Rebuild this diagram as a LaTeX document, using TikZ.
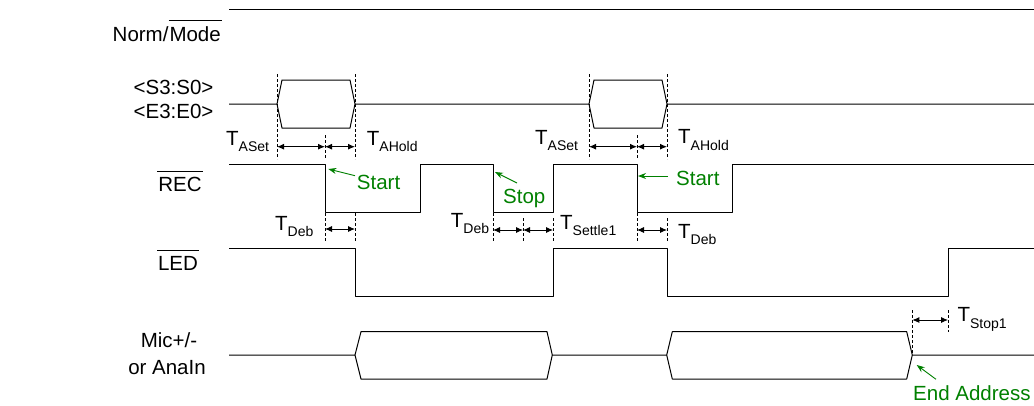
\documentclass[tikz,border=0pt]{standalone}
\usepackage{fontspec}
\setmainfont{Liberation Sans}
\usetikzlibrary{arrows.meta}
\definecolor{annot}{RGB}{0,128,0}
\newcommand\ovl[1]{\vbox{\hrule height 1pt\kern 5pt\hbox{\kern1pt#1\kern1pt}}}
\newcommand\tsym[1]{T\raisebox{-6.5pt}{\fontsize{14}{15}\selectfont #1}}
\begin{document}
\begin{tikzpicture}[x=1pt, y=-1pt, line join=round,
  sig/.style={line width=1pt},
  guide/.style={line width=0.8pt, dash pattern=on 3pt off 2pt},
  tim/.style={line width=0.9pt, {Latex[length=7pt,width=6pt]}-{Latex[length=7pt,width=6pt]}},
  note/.style={annot, line width=0.9pt, -{Stealth[length=8pt,width=6pt]}},
  lbl/.style={inner sep=0pt, font=\fontsize{20.5}{24}\selectfont},
  tl/.style={lbl, anchor=base west},
  gl/.style={lbl, text=annot, anchor=base west}]
\useasboundingbox (0,0) rectangle (1034,405);
\node[lbl, anchor=base east] (norm) at (222,41)    {Norm/\ovl{Mode}};
\node[lbl, anchor=base]      (sadr) at (173.5,94.3) {<S3:S0>};
\node[lbl, anchor=base]      (eadr) at (173.5,118.3) {<E3:E0>};
\node[lbl, anchor=base]      (rec)  at (180,191.5) {\ovl{REC}};
\node[lbl, anchor=base]      (led)  at (178,270.5) {\ovl{LED}};
\node[lbl, anchor=base]      (mic)  at (169,347.7) {Mic+/-};
\node[lbl, anchor=base]      (ain)  at (167,374)   {or AnaIn};
\draw[sig] (229,9) -- (1034,9);
\draw[sig] (229,104) -- (277,104) (355,104) -- (589,104) (667,104) -- (1034,104)
  (277,104) -- (282,80) -- (350,80) -- (355,104) -- (350,128) -- (282,128) -- cycle
  (589,104) -- (594,80) -- (662,80) -- (667,104) -- (662,128) -- (594,128) -- cycle;
\draw[sig] (229,164) -- (325,164) -- (325,212) -- (420,212) -- (420,164) -- (493,164)
  -- (493,212) -- (553,212) -- (553,164) -- (637,164) -- (637,212) -- (732,212)
  -- (732,164) -- (1034,164);
\draw[sig] (229,248) -- (355,248) -- (355,296) -- (553,296) -- (553,248) -- (667,248)
  -- (667,296) -- (948,296) -- (948,248) -- (1034,248);
\draw[sig] (229,355) -- (355,355) (552.3,355) -- (666.7,355) (912.3,355) -- (1034,355)
  (355,355) -- (361,331.7) -- (547,331.7) -- (552.3,355) -- (547,379) -- (361,379) -- cycle
  (666.7,355) -- (672.3,331.7) -- (906.7,331.7) -- (912.3,355) -- (906.7,379) -- (672.3,379) -- cycle;
\foreach \x/\ya/\yb in {277/74/159, 325/135/159, 355/74/159, 589/74/159, 637/135/159,
  667/74/159, 325/213/242, 355/213/242, 493/213/242, 523/218/242, 553/218/242,
  637/213/242, 667/218/242, 912.3/310/355, 948/310/332}
  \draw[guide] (\x,\ya) -- (\x,\yb);
\foreach \xa/\xb/\y in {277/325/146.7, 325/355/146.7, 589/637/146.7, 637/667/146.7,
  325/355/229, 493/523/230, 523/553/230, 637/667/230, 912.3/948/320}
  \draw[tim] (\xa,\y) -- (\xb,\y);
\node[tl] (aset1)  at (226,145)     {\tsym{ASet}};
\node[tl] (ahold1) at (366.7,145)   {\tsym{AHold}};
\node[tl] (aset2)  at (535,144)     {\tsym{ASet}};
\node[tl] (ahold2) at (678,143.5)   {\tsym{AHold}};
\node[tl] (deb1)   at (275,230)     {\tsym{Deb}};
\node[tl] (deb2)   at (450.7,227)   {\tsym{Deb}};
\node[tl] (settle) at (560,229)     {\tsym{Settle1}};
\node[tl] (deb3)   at (678,238)     {\tsym{Deb}};
\node[tl] (stop1)  at (957.3,321.5) {\tsym{Stop1}};
\node[gl] (start1) at (356.7,189) {Start};
\node[gl] (stop)   at (503,203)   {Stop};
\node[gl] (start2) at (676,185.5) {Start};
\node[gl] (endadr) at (913,400)   {End Address};
\draw[note] (355,175.7) -- (328.3,169);
\draw[note] (517,183) -- (495,172);
\draw[note] (668,176) -- (638,176);
\draw[note] (936,379.3) -- (916.7,365);
\end{tikzpicture}
\end{document}
